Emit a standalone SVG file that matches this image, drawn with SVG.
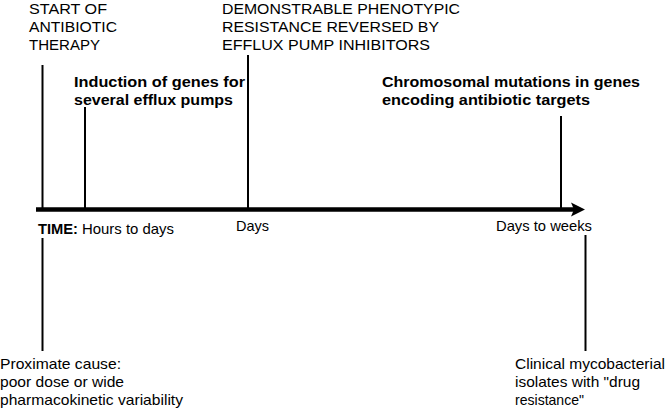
<svg xmlns="http://www.w3.org/2000/svg" width="666" height="410" viewBox="0 0 666 410">
<style>
text{font-family:"Liberation Sans",Arial,sans-serif;fill:#000}
.r{font-size:14.5px}
.b{font-size:15px;font-weight:bold}
.ln{stroke:#000;stroke-width:2;fill:none}
</style>
<rect width="666" height="410" fill="#fff"/>
<g id="connectors">
<line x1="36" y1="209.5" x2="574" y2="209.5" stroke="#000" stroke-width="4.5"/>
<polygon points="571,202.5 585,209.5 571,216.5 574,209.5" fill="#000"/>
<line class="ln" x1="42.5" y1="65" x2="42.5" y2="209"/>
<line class="ln" x1="85" y1="107" x2="85" y2="209"/>
<line class="ln" x1="248" y1="55" x2="248" y2="209"/>
<line class="ln" x1="561" y1="116" x2="561" y2="209"/>
<line class="ln" x1="42.5" y1="238" x2="42.5" y2="351"/>
<line class="ln" x1="585.5" y1="235" x2="585.5" y2="351"/>
</g>
<g id="start">
<text class="r" x="29" y="14" textLength="78" lengthAdjust="spacingAndGlyphs">START OF</text>
<text class="r" x="29" y="32" textLength="88" lengthAdjust="spacingAndGlyphs">ANTIBIOTIC</text>
<text class="r" x="29" y="50" textLength="71" lengthAdjust="spacingAndGlyphs">THERAPY</text>
</g>
<g id="demonstrable">
<text class="r" x="222" y="14" textLength="238" lengthAdjust="spacingAndGlyphs">DEMONSTRABLE PHENOTYPIC</text>
<text class="r" x="222" y="32" textLength="217" lengthAdjust="spacingAndGlyphs">RESISTANCE REVERSED BY</text>
<text class="r" x="222" y="50" textLength="208" lengthAdjust="spacingAndGlyphs">EFFLUX  PUMP INHIBITORS</text>
</g>
<g id="induction">
<text class="b" x="74" y="86.5" textLength="171" lengthAdjust="spacingAndGlyphs">Induction of genes for</text>
<text class="b" x="74" y="104.5" textLength="159" lengthAdjust="spacingAndGlyphs">several efflux pumps</text>
</g>
<g id="chromosomal">
<text class="b" x="382" y="86.5" textLength="258" lengthAdjust="spacingAndGlyphs">Chromosomal mutations in genes</text>
<text class="b" x="382" y="104.5" textLength="208" lengthAdjust="spacingAndGlyphs">encoding antibiotic targets</text>
</g>
<g id="timeline-labels">
<text class="b" x="38" y="233.5" textLength="40" lengthAdjust="spacingAndGlyphs">TIME:</text>
<text class="r" x="82" y="233.5" textLength="92" lengthAdjust="spacingAndGlyphs">Hours to days</text>
<text class="r" x="236" y="231" textLength="33" lengthAdjust="spacingAndGlyphs">Days</text>
<text class="r" x="496" y="231" textLength="96" lengthAdjust="spacingAndGlyphs">Days to weeks</text>
</g>
<g id="proximate">
<text class="r" x="0" y="368.5" textLength="121" lengthAdjust="spacingAndGlyphs">Proximate cause:</text>
<text class="r" x="0" y="387" textLength="124" lengthAdjust="spacingAndGlyphs">poor dose or wide</text>
<text class="r" x="0" y="405" textLength="183" lengthAdjust="spacingAndGlyphs">pharmacokinetic variability</text>
</g>
<g id="clinical">
<text class="r" x="515" y="368.5" textLength="150" lengthAdjust="spacingAndGlyphs">Clinical mycobacterial</text>
<text class="r" x="515" y="387" textLength="125" lengthAdjust="spacingAndGlyphs">isolates with "drug</text>
<text class="r" x="515" y="405" textLength="69" lengthAdjust="spacingAndGlyphs">resistance"</text>
</g>
</svg>
